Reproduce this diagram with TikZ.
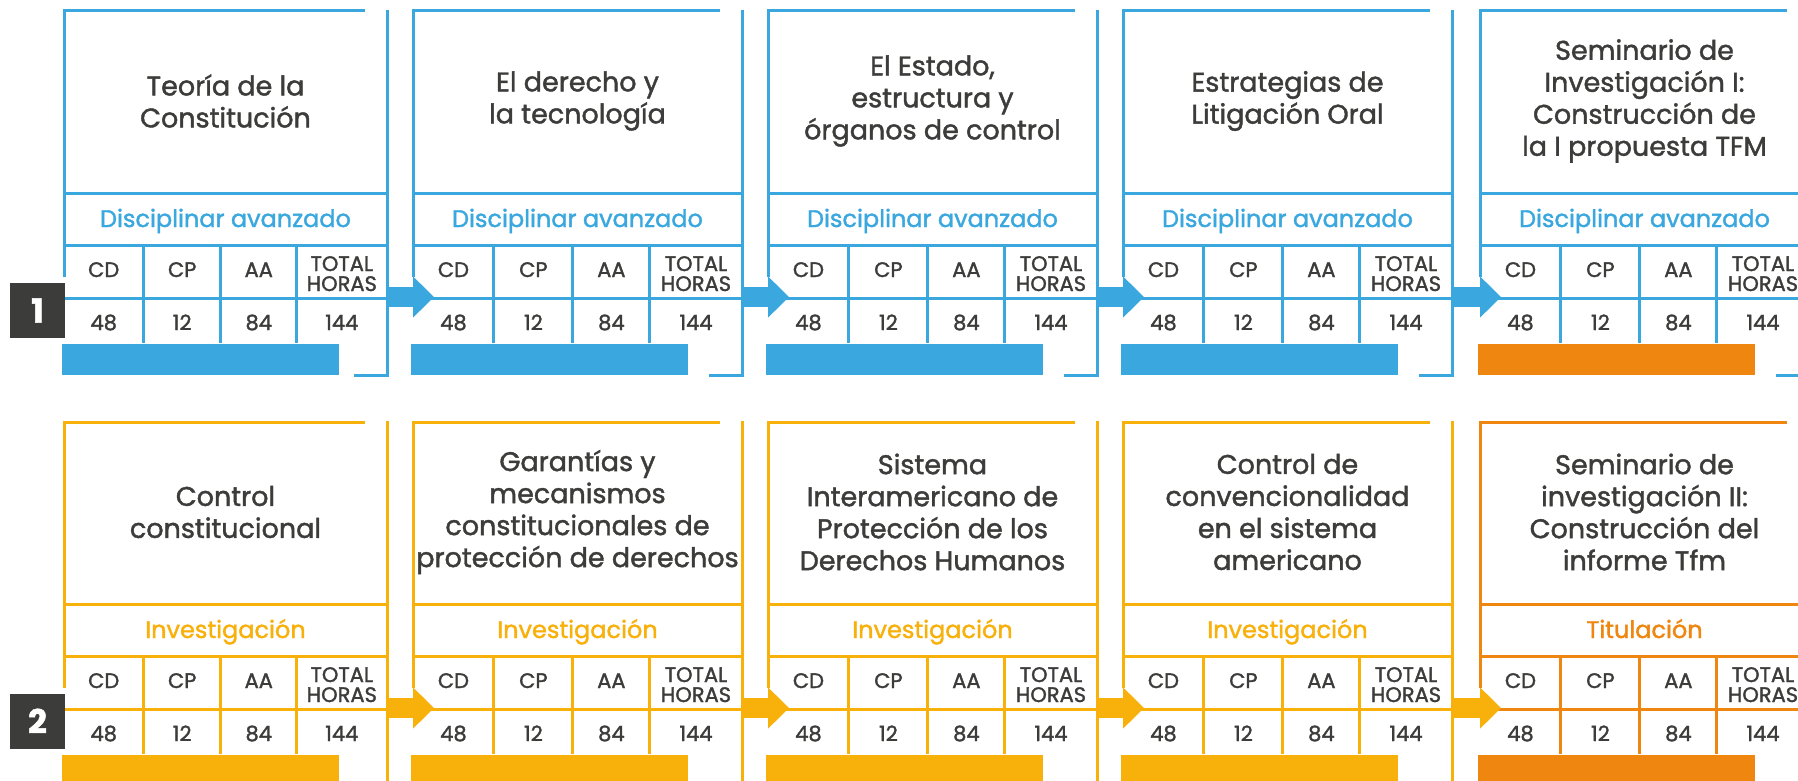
\documentclass[tikz,border=0pt]{standalone}
\usepackage{fontspec}
\setmainfont{Poppins}[FakeBold=1.5]
\usetikzlibrary{arrows.meta}
\definecolor{cblue}{HTML}{3AA8DF}
\definecolor{cyell}{HTML}{F8B00A}
\definecolor{corng}{HTML}{EF8610}
\definecolor{cdark}{HTML}{3C3C3B}
\tikzset{
  titletext/.style={font=\fontsize{27}{32}\selectfont, text=cdark, align=center, inner sep=0pt},
  subtext/.style={font=\fontsize{24}{28}\selectfont, inner sep=0pt, anchor=base},
  celltext/.style={font=\fontsize{21}{21}\selectfont, text=cdark, inner sep=0pt, anchor=base},
  lbl/.style={fill=cdark, minimum width=55pt, minimum height=55pt, inner sep=0pt, text=white, font=\fontsize{33}{33}\selectfont\bfseries},
  flowarrow/.style={line width=20pt, draw=#1, -{Triangle[length=21pt,width=40pt,fill=#1,color=#1]}}
}
\newcommand\mycard[8]{%
\begin{scope}[yshift=-#4pt]
\pgfmathsetmacro\cL{#2}%
\pgfmathsetmacro\cR{#3}%
\pgfmathsetmacro\cM{(#2+#3)/2}%
\pgfmathsetmacro\cW{#3-#2}%
\pgfmathsetmacro\ca{#2+0.246*\cW}%
\pgfmathsetmacro\cb{#2+0.486*\cW}%
\pgfmathsetmacro\cc{#2+0.72*\cW}%
\pgfmathsetmacro\cma{(#2+\ca)/2}%
\pgfmathsetmacro\cmb{(\ca+\cb)/2}%
\pgfmathsetmacro\cmc{(\cb+\cc)/2}%
\pgfmathsetmacro\cmd{(\cc+#3)/2}%
\fill[#8] (\cL-2,344) rectangle (\cL+275,375);
\begin{scope}[draw=#5, line width=3pt]
\draw (\cL,277) -- (\cL,11) -- (\cR-22,11);
\draw (\cR,10) -- (\cR,375) -- (\cR-33,375);
\draw (\cL,193) -- (\cR,193) (\cL,245) -- (\cR,245) (\cL,298) -- (\cR,298);
\draw (\ca,245) -- (\ca,343) (\cb,245) -- (\cb,343) (\cc,245) -- (\cc,343);
\end{scope}
\node[titletext] (#1-title) at (\cM,101) {#6};
\node[subtext, text=#5] (#1-sub) at (\cM,227) {#7};
\node[celltext] (#1-cd) at (\cma,277) {CD};
\node[celltext] (#1-cp) at (\cmb,277) {CP};
\node[celltext] (#1-aa) at (\cmc,277) {AA};
\node[celltext] (#1-tot) at (\cmd,271) {TOTAL};
\node[celltext] (#1-hor) at (\cmd,291) {HORAS};
\node[celltext] (#1-v1) at (\cma,330) {48};
\node[celltext] (#1-v2) at (\cmb,330) {12};
\node[celltext] (#1-v3) at (\cmc,330) {84};
\node[celltext] (#1-v4) at (\cmd,330) {144};
\coordinate (#1-in) at (\cL+21,297);
\coordinate (#1-out) at (\cR-1,297);
\end{scope}}
\begin{document}
\begin{tikzpicture}[x=1pt,y=-1pt]
\clip (0,0) rectangle (1798,781);
\fill[white] (0,0) rectangle (1798,781);
% row 1
\mycard{a1}{64}{387}{0}{cblue}{Teoría de la\\Constitución}{Disciplinar avanzado}{cblue}
\mycard{a2}{413}{742}{0}{cblue}{El derecho y\\la tecnología}{Disciplinar avanzado}{cblue}
\mycard{a3}{768}{1097}{0}{cblue}{El Estado,\\estructura y\\órganos de control}{Disciplinar avanzado}{cblue}
\mycard{a4}{1123}{1452}{0}{cblue}{Estrategias de\\Litigación Oral}{Disciplinar avanzado}{cblue}
\mycard{a5}{1480}{1809}{0}{cblue}{Seminario de\\Investigación I:\\Construcción de\\la I propuesta TFM}{Disciplinar avanzado}{corng}
% row 2
\mycard{b1}{64}{387}{411}{cyell}{Control\\constitucional}{Investigación}{cyell}
\mycard{b2}{413}{742}{411}{cyell}{Garantías y\\mecanismos\\constitucionales de\\protección de derechos}{Investigación}{cyell}
\mycard{b3}{768}{1097}{411}{cyell}{Sistema\\Interamericano de\\Protección de los\\Derechos Humanos}{Investigación}{cyell}
\mycard{b4}{1123}{1452}{411}{cyell}{Control de\\convencionalidad\\en el sistema\\americano}{Investigación}{cyell}
\mycard{b5}{1480}{1809}{411}{corng}{Seminario de\\investigación II:\\Construcción del\\informe Tfm}{Titulación}{corng}
% arrows
\draw[flowarrow=cblue] (a1-out) -- (a2-in);
\draw[flowarrow=cblue] (a2-out) -- (a3-in);
\draw[flowarrow=cblue] (a3-out) -- (a4-in);
\draw[flowarrow=cblue] (a4-out) -- (a5-in);
\draw[flowarrow=cyell] (b1-out) -- (b2-in);
\draw[flowarrow=cyell] (b2-out) -- (b3-in);
\draw[flowarrow=cyell] (b3-out) -- (b4-in);
\draw[flowarrow=cyell] (b4-out) -- (b5-in);
% labels
\node[lbl] (n1) at (37.5,310.5) {1};
\node[lbl] (n2) at (37.5,721) {2};
\end{tikzpicture}
\end{document}
